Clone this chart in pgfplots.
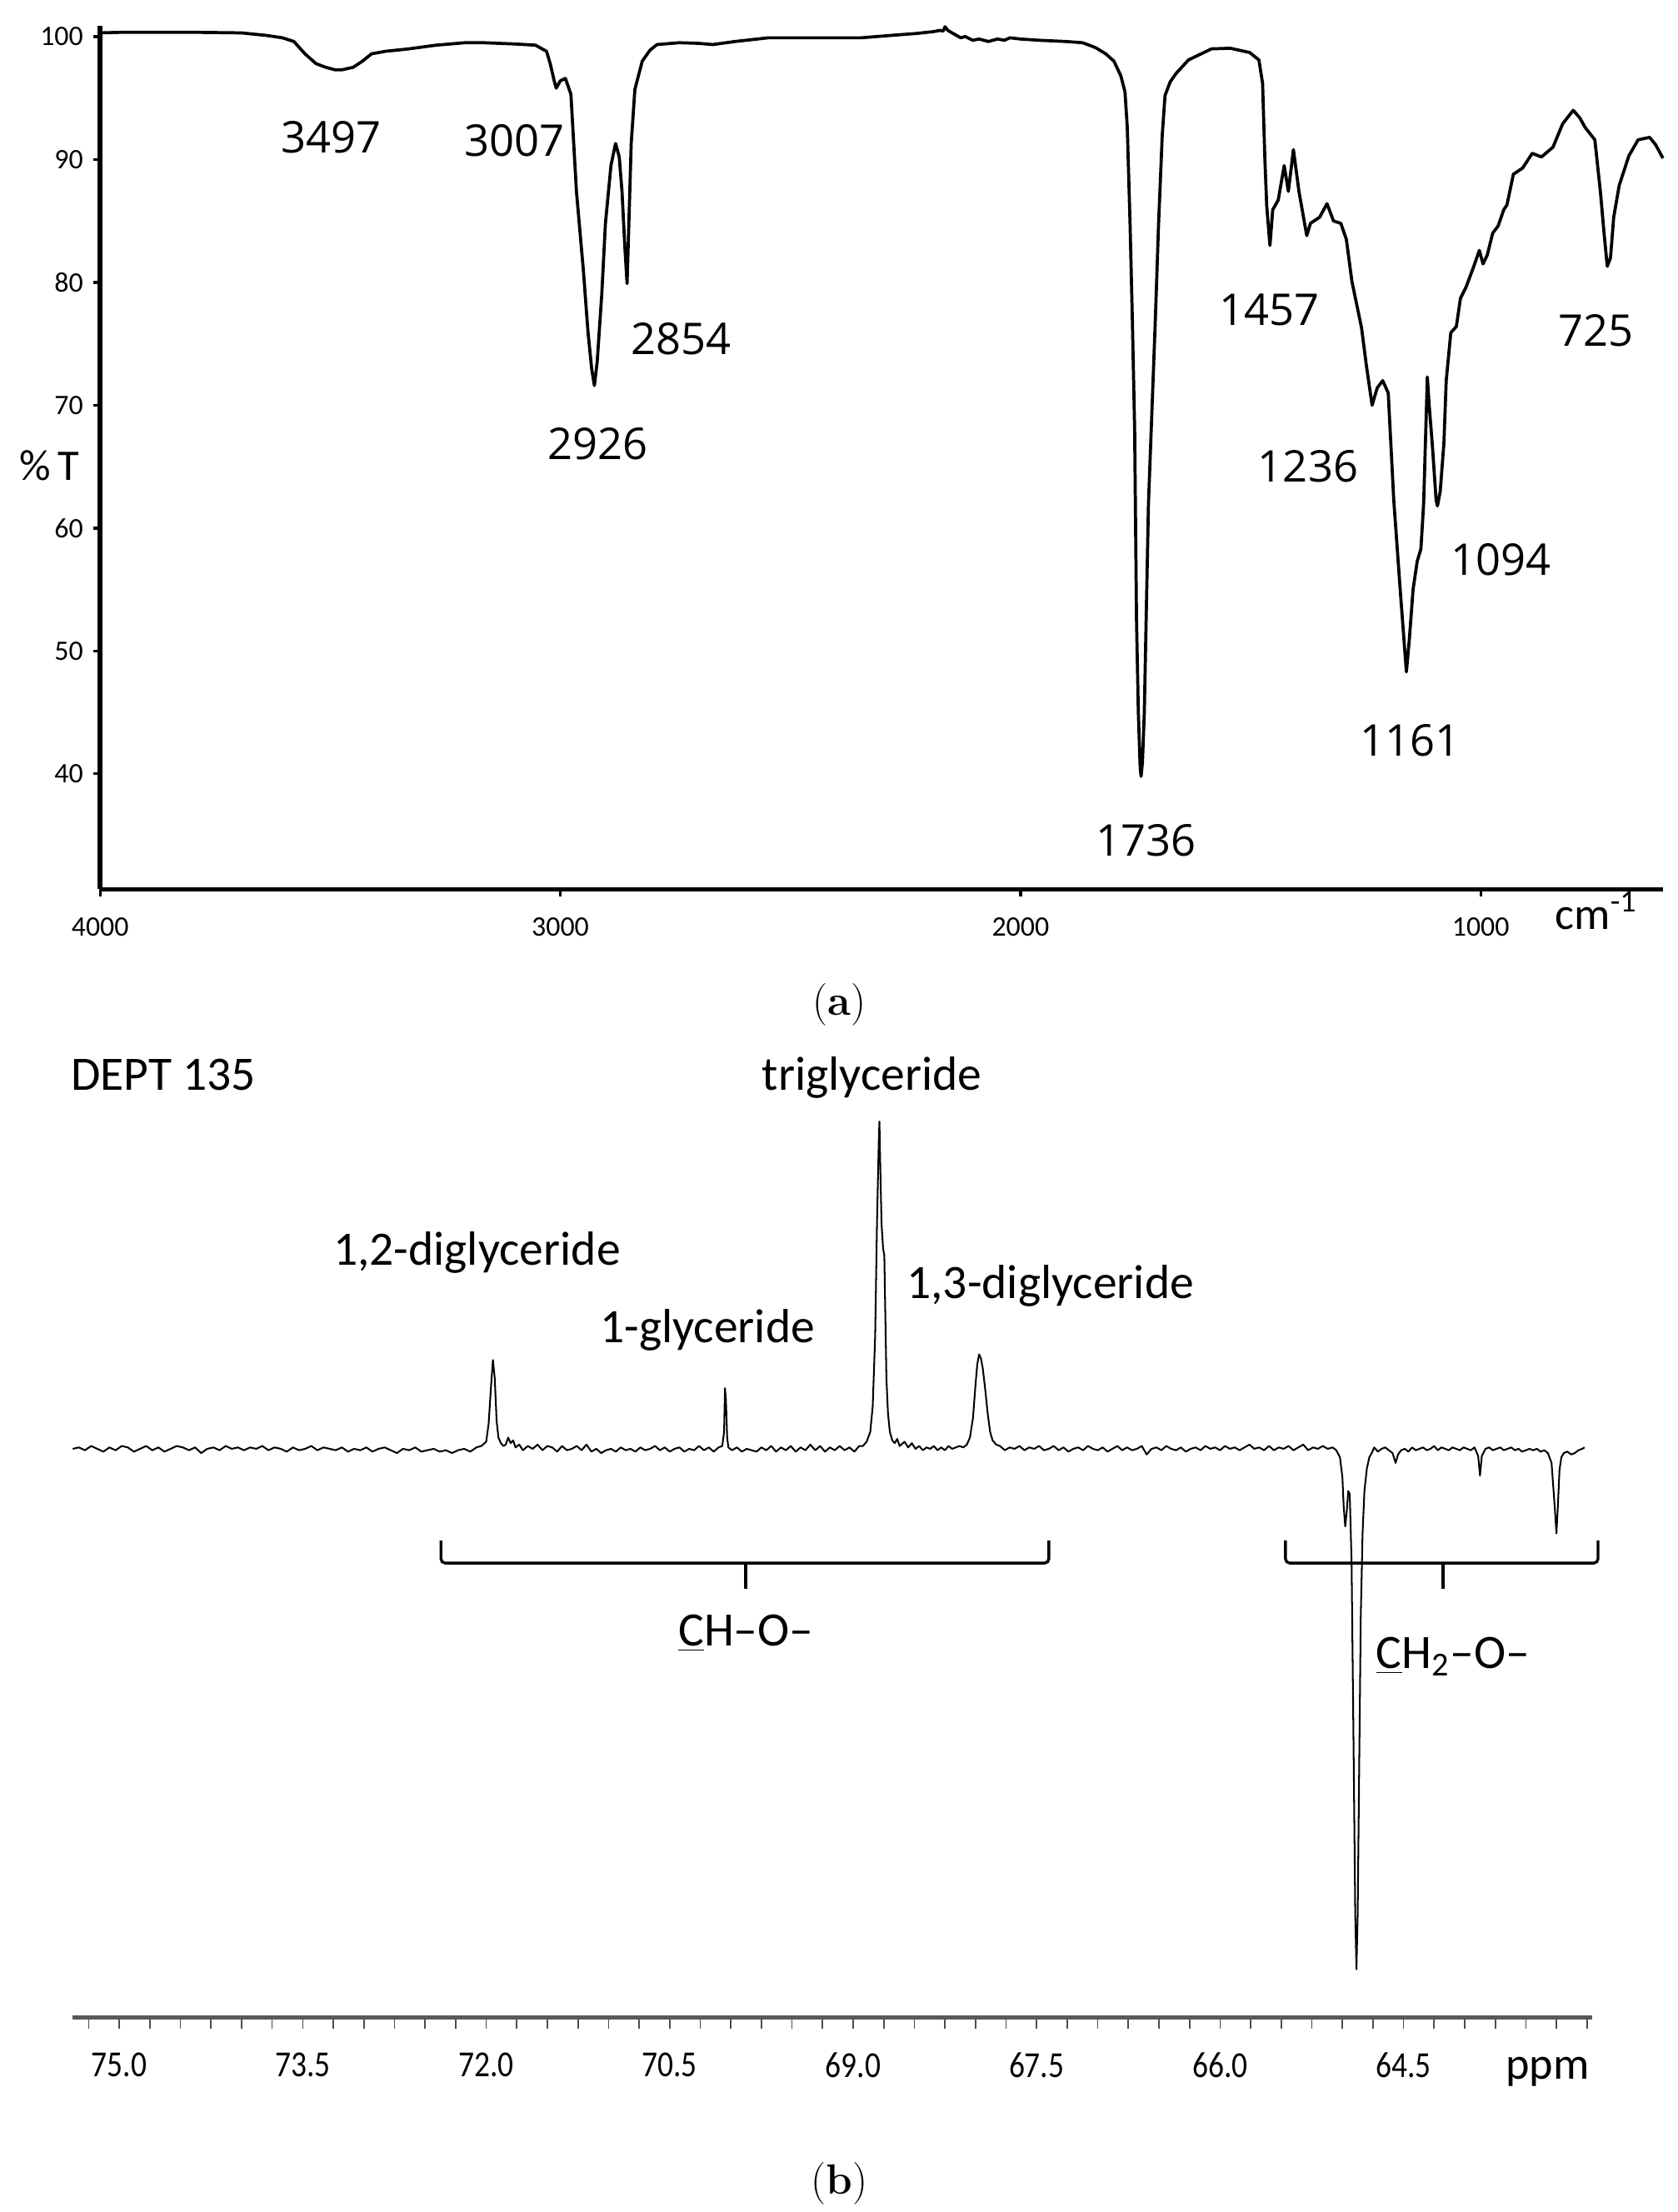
\documentclass[border=0pt]{standalone}
\usepackage{pgfplots}
\pgfplotsset{compat=1.18}
\usepackage{fontspec}
\usepackage{graphicx}
\newfontfamily\carl[Ligatures=TeX]{Carlito}
\newfontfamily\opens{Open Sans}
\begin{document}
\begin{tikzpicture}
\useasboundingbox (0pt,0pt) rectangle (594.5pt,-784pt);
% ---------------- IR spectrum (a) ----------------
\begin{axis}[
  at={(35.5pt,-315.2pt)}, anchor=south west,
  x=0.1631pt, y=4.355pt,
  x dir=reverse,
  xmin=604, xmax=4000, ymin=30.6, ymax=100.9,
  axis x line*=bottom, axis y line*=left,
  axis line style={line width=1.6pt, -},
  xtick={4000,3000,2000,1000}, ytick={40,50,...,100},
  tick align=outside, major tick length=2.5pt,
  tick style={line width=1pt,black},
  ticklabel style={font=\carl\fontsize{10}{12}\selectfont},
  /pgf/number format/assume math mode=true,
  /pgf/number format/1000 sep={},
  xticklabel style={yshift=-4pt},
  clip=false,
]
\addplot[line width=1.1pt, line join=round, black] coordinates {
(4000,100.3)(3950,100.35)(3895,100.35)(3800,100.35)(3693,100.3)(3640,100.1)
(3604,99.9)(3579,99.6)(3555,98.6)(3531,97.8)(3510,97.5)(3490,97.3)(3474,97.3)
(3450,97.5)(3430,98.0)(3410,98.6)(3380,98.8)(3329,99.0)(3270,99.3)(3207,99.5)
(3167,99.5)(3100,99.4)(3054,99.3)(3030,98.8)(3022,97.8)(3014,96.5)(3009,95.8)
(3000,96.4)(2989,96.6)(2977,95.3)(2965,87.4)(2950,81)(2940,76)(2932,73)
(2926,71.6)(2920,73.5)(2910,79)(2902,84.8)(2890,89.5)(2880,91.3)(2872,90.2)
(2866,87.4)(2860,83)(2855,79.9)(2850,86.2)(2846,91.3)(2838,95.7)(2822,98.0)
(2805,98.9)(2790,99.35)(2741,99.5)(2700,99.45)(2669,99.35)(2620,99.6)(2548,99.9)
(2450,99.9)(2346,99.9)(2280,100.1)(2224,100.26)(2190,100.4)(2175,100.5)(2168,100.45)
(2164,100.8)(2158,100.5)(2144,100.2)(2130,99.9)(2120,100.0)(2104,99.7)(2090,99.8)
(2070,99.6)(2050,99.8)(2035,99.7)(2023,99.9)(2000,99.8)(1960,99.7)(1902,99.6)
(1865,99.5)(1837,99.1)(1815,98.6)(1797,98.0)(1782,96.8)(1773,95.5)(1768,92.6)
(1762,84.8)(1757,77)(1752,68)(1748,52.6)(1744,45)(1740,40.5)(1738,39.8)
(1735,41)(1731,45)(1727,52.6)(1722,62)(1718,66)(1712,72)(1707,77)(1700,84.8)
(1692,92)(1686,95.2)(1675,96.3)(1662,97.0)(1635,98.1)(1585,99.0)(1544,99.05)
(1502,98.7)(1482,98.1)(1474,96.2)(1469,90)(1465,86.2)(1458,83.0)(1452,85.9)
(1440,86.7)(1427,89.5)(1418,87.4)(1407,90.8)(1395,87.4)(1378,83.8)(1370,84.8)
(1350,85.3)(1334,86.4)(1320,85.0)(1304,84.8)(1292,83.5)(1280,80.1)(1259,76.3)
(1248,73.1)(1236,70.0)(1225,71.4)(1213,72)(1201,71)(1189,62.3)(1175,55)
(1161.5,48.3)(1155,51)(1147,55)(1138,57.3)(1130,58.3)(1124,62)(1116,72.3)
(1112,70)(1105,66.7)(1097,62.3)(1094,61.8)(1088,63)(1080,66.9)(1075,72)
(1065,75.9)(1053,76.4)(1044,78.7)(1032,79.6)(1016,81.2)(1003,82.6)(995,81.5)
(986,82.2)(974,84.0)(962,84.6)(950,85.9)(943,86.3)(929,88.8)(909,89.3)
(888,90.5)(868,90.2)(843,91.0)(822,92.9)(799,94.0)(785,93.4)(773,92.6)
(752,91.6)(740,87.4)(732,84)(725,81.3)(718,82)(711,85.3)(699,87.9)
(678,90.3)(658,91.6)(633,91.8)(620,91.2)(604,90.1)
};
\end{axis}
% ---------------- DEPT 135 (b) ----------------
\begin{axis}[
  at={(25.8pt,-715pt)}, anchor=south west,
  x=43.35pt, y=0.5pt, x dir=reverse,
  xmin=62.96, xmax=75.38, ymin=-403, ymax=235,
  axis x line*=bottom, axis y line=none,
  axis line style={line width=1.4pt, black!65, -},
  xtick={75,73.5,72,70.5,69,67.5,66,64.5},
  xticklabels={\scalebox{0.85}[1]{75.0},\scalebox{0.85}[1]{73.5},\scalebox{0.85}[1]{72.0},\scalebox{0.85}[1]{70.5},\scalebox{0.85}[1]{69.0},\scalebox{0.85}[1]{67.5},\scalebox{0.85}[1]{66.0},\scalebox{0.85}[1]{64.5}},
  minor xtick={63,63.25,...,75.25},
  tick align=outside, major tick length=4pt, minor tick length=4pt,
  tick style={line width=0.5pt, black!70},
  xticklabel style={font=\carl\fontsize{13}{15}\selectfont, yshift=-5pt},
  clip=false,
]
\addplot[line width=0.6pt, line join=round, black] coordinates {
(75.38,0)(75.33,1)(75.28,-1)(75.23,2)(75.18,0)(75.13,-2)(75.08,1)(75.03,-1)(74.98,2)(74.93,1)
(74.88,-2)(74.83,0)(74.78,2)(74.73,-1)(74.68,1)(74.63,-2)(74.58,0)(74.53,2)(74.48,1)(74.43,-1)
(74.38,1)(74.33,-3)(74.28,0)(74.23,1)(74.18,-1)(74.13,2)(74.08,0)(74.03,1)(73.98,-1)(73.93,1)
(73.88,0)(73.83,2)(73.78,-1)(73.73,1)(73.68,0)(73.63,-2)(73.58,1)(73.53,-1)(73.48,0)(73.43,2)
(73.38,-1)(73.33,1)(73.28,0)(73.23,-1)(73.18,1)(73.13,-2)(73.08,0)(73.03,-1)(72.98,1)(72.93,-2)
(72.88,0)(72.83,1)(72.78,-1)(72.73,-3)(72.68,0)(72.63,-1)(72.58,1)(72.53,-2)(72.48,-1)(72.43,0)
(72.38,-2)(72.33,-1)(72.28,-3)(72.23,-1)(72.18,0)(72.13,-2)(72.08,1)
(72.04,2)(72.00,5)(71.98,18)(71.96,45)(71.945,63)(71.93,50)(71.915,20)(71.90,8)(71.88,4)
(71.86,2)(71.84,3)(71.82,8)(71.80,4)(71.78,6)(71.76,1)(71.73,3)(71.70,-1)(71.66,2)(71.62,0)
(71.58,3)(71.54,-1)(71.50,2)(71.46,1)(71.42,-2)(71.38,2)(71.34,-1)(71.30,0)(71.26,2)(71.22,-1)
(71.18,3)(71.14,-2)(71.10,0)(71.06,-3)(71.02,-1)(70.98,0)(70.94,-2)(70.90,1)(70.86,-1)(70.82,0)
(70.78,-2)(70.74,1)(70.70,-1)(70.66,0)(70.62,2)(70.58,-1)(70.54,1)(70.50,-2)(70.46,0)(70.42,1)
(70.38,-2)(70.34,0)(70.30,-1)(70.26,2)(70.22,-1)(70.18,1)(70.14,-2)(70.10,1)
(70.07,2)(70.055,12)(70.048,43)(70.040,35)(70.030,8)(70.02,1)
(69.99,-1)(69.95,1)(69.91,-2)(69.87,0)(69.83,-1)(69.79,-2)(69.75,1)(69.71,-1)(69.67,2)(69.63,-2)
(69.59,1)(69.55,-1)(69.51,2)(69.47,-2)(69.43,1)(69.39,-1)(69.35,3)(69.31,-1)(69.27,2)(69.23,-2)
(69.19,1)(69.15,-1)(69.11,2)(69.07,-1)(69.03,1)(68.99,-2)(68.95,2)
(68.92,2)(68.89,5)(68.86,12)(68.84,30)(68.82,80)(68.805,160)(68.79,220)(68.785,232)(68.778,200)
(68.768,160)(68.755,142)(68.745,137)(68.738,100)(68.728,50)(68.715,25)(68.70,12)(68.68,6)
(68.66,4)(68.64,7)(68.62,2)
(68.58,5)(68.55,1)(68.52,4)(68.49,0)(68.46,2)(68.43,-1)(68.40,1)(68.37,0)(68.34,2)(68.31,-1)
(68.28,1)(68.25,-1)(68.22,2)(68.19,0)(68.16,1)(68.13,2)(68.10,1)
(68.07,3)(68.045,8)(68.02,22)(68.00,45)(67.985,60)(67.97,67)(67.955,64)(67.94,57)(67.92,42)
(67.90,25)(67.88,12)(67.86,6)(67.83,3)
(67.80,2)(67.76,-1)(67.72,1)(67.68,0)(67.64,2)(67.60,-1)(67.56,1)(67.52,0)(67.48,2)(67.44,-1)
(67.40,0)(67.36,2)(67.32,-1)(67.28,1)(67.24,-2)(67.20,0)(67.16,1)(67.12,-1)(67.08,2)(67.04,0)
(67.00,-1)(66.96,1)(66.92,-2)(66.88,0)(66.84,2)(66.80,-1)(66.76,1)(66.72,-1)(66.68,0)(66.64,2)
(66.60,-4)(66.56,0)(66.52,1)(66.48,-1)(66.44,2)(66.40,0)(66.36,-1)(66.32,1)(66.28,-2)(66.24,0)
(66.20,1)(66.16,-1)(66.12,2)(66.08,0)(66.04,1)(66.00,-1)(65.96,2)(65.92,0)(65.88,1)(65.84,-1)
(65.80,1)(65.76,3)(65.72,0)(65.68,1)(65.64,-1)(65.60,2)(65.56,-1)(65.52,1)(65.48,0)(65.44,2)
(65.40,-1)(65.36,1)(65.32,3)(65.28,-1)(65.24,1)(65.20,0)(65.16,2)(65.12,0)(65.08,1)
(65.05,-1)(65.02,-6)(65.00,-20)(64.99,-40)(64.977,-55)(64.965,-45)(64.952,-30)(64.94,-32)
(64.925,-80)(64.91,-200)(64.895,-330)(64.885,-369)(64.875,-330)(64.862,-220)(64.85,-120)
(64.835,-60)(64.82,-30)(64.80,-14)(64.78,-6)(64.76,-3)
(64.74,1)(64.71,-2)(64.68,0)(64.65,1)(64.62,-1)(64.59,-3)(64.565,-10)(64.545,-4)(64.52,-1)
(64.49,0)(64.46,-2)(64.43,1)(64.40,-1)(64.37,0)(64.34,1)(64.31,-1)(64.28,0)(64.25,2)(64.22,-1)
(64.19,1)(64.16,0)(64.13,-1)(64.10,1)(64.07,0)(64.04,-1)(64.01,1)(63.98,0)(63.95,-1)(63.92,1)
(63.89,-5)(63.875,-19)(63.86,-5)(63.83,0)(63.80,1)(63.77,-1)(63.74,0)(63.71,1)(63.68,-1)
(63.65,0)(63.62,1)(63.59,-1)(63.56,0)(63.53,-2)(63.50,-1)(63.47,0)(63.44,-1)(63.41,0)(63.38,-2)
(63.35,-1)(63.32,-3)(63.29,-10)(63.265,-40)(63.25,-60)(63.238,-40)(63.225,-15)(63.21,-6)
(63.19,-3)(63.16,-2)(63.13,-4)(63.10,-3)(63.07,-1)(63.04,0)(63.02,1)
};
% brackets
\draw[line width=1pt, rounded corners=1.5pt] (axis cs:72.37,-65) -- (axis cs:72.37,-81) -- (axis cs:67.40,-81) -- (axis cs:67.40,-65);
\draw[line width=1.2pt] (axis cs:69.88,-81) -- (axis cs:69.88,-99);
\draw[line width=1pt, rounded corners=1.5pt] (axis cs:65.465,-65) -- (axis cs:65.465,-81) -- (axis cs:62.91,-81) -- (axis cs:62.91,-65);
\draw[line width=1.2pt] (axis cs:64.18,-81) -- (axis cs:64.18,-99);
\end{axis}
% ---------------- texts ----------------
\begingroup
\def\irf{\opens\fontsize{15.5}{18}\selectfont}
\node[font=\irf] at (117.3pt,-48.75pt) {3497};
\node[font=\irf] at (182.25pt,-49.9pt) {3007};
\node[font=\irf] at (211.75pt,-157.4pt) {2926};
\node[font=\irf] at (241.5pt,-120pt) {2854};
\node[font=\irf] at (406.3pt,-297.8pt) {1736};
\node[font=\irf] at (449.8pt,-109.9pt) {1457};
\node[font=\irf] at (463.6pt,-165.3pt) {1236};
\node[font=\irf] at (565.7pt,-117.2pt) {725};
\node[font=\irf] at (531.9pt,-198.5pt) {1094};
\node[font=\irf] at (499.7pt,-262.3pt) {1161};
\endgroup
\node[font=\carl\fontsize{15.5}{18}\selectfont] at (17.5pt,-165pt) {\%\,T};
\node[font=\carl\fontsize{16}{18}\selectfont, anchor=base west, inner sep=0pt] at (551pt,-329.5pt) {cm\textsuperscript{-1}};
\node[font=\fontsize{15}{18}\selectfont] at (297.5pt,-356pt) {(\textbf{a})};
\node[font=\fontsize{15}{18}\selectfont] at (297.5pt,-774pt) {(\textbf{b})};
\begingroup
\def\nf{\carl\fontsize{17}{20}\selectfont}
\node[font=\nf, anchor=base west, inner sep=0pt] at (25pt,-386.5pt) {DEPT 135};
\node[font=\nf, anchor=base, inner sep=0pt] at (309pt,-386.5pt) {triglyceride};
\node[font=\nf, anchor=base, inner sep=0pt] at (169pt,-448.25pt) {1,2-diglyceride};
\node[font=\nf, anchor=base, inner sep=0pt] at (250.75pt,-476pt) {1-glyceride};
\node[font=\nf, anchor=base, inner sep=0pt] at (372.25pt,-460.25pt) {1,3-diglyceride};
\node[font=\nf, anchor=base, inner sep=0pt] at (264.4pt,-583.3pt) {\underline{C}H–O–};
\node[font=\nf, anchor=base, inner sep=0pt] at (515pt,-591.25pt) {\underline{C}H\textsubscript{2}–O–};
\node[font=\carl\fontsize{16}{18}\selectfont, anchor=base, inner sep=0pt] at (548.5pt,-737pt) {ppm};
\endgroup
\end{tikzpicture}
\end{document}
